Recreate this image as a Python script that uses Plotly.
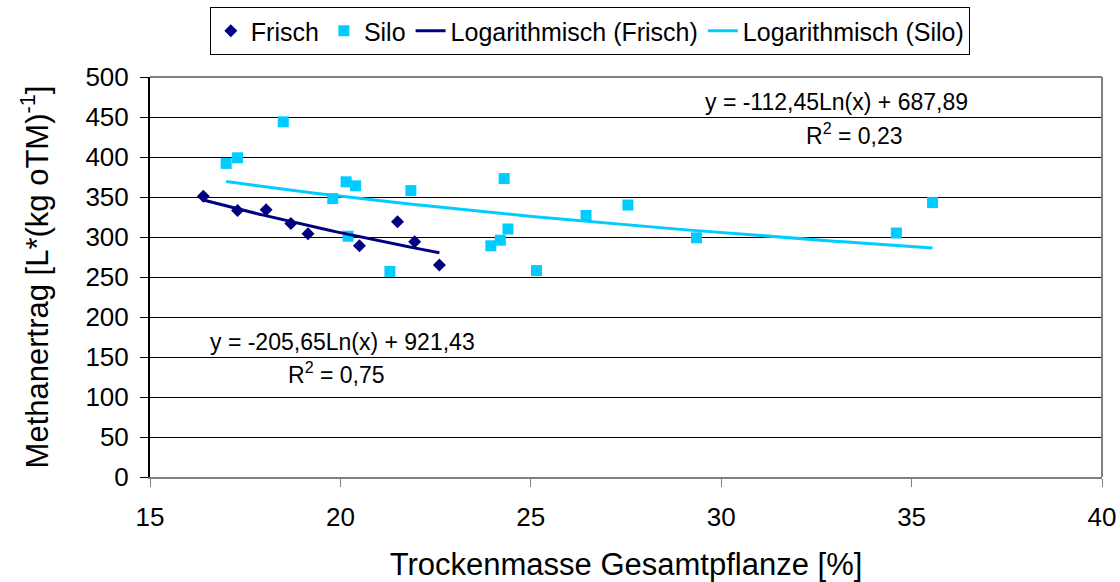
import numpy as np
import plotly.graph_objects as go

# Data
frisch_x = [16.4, 17.3, 18.05, 18.7, 19.15, 20.5, 21.5, 21.95, 22.6]
frisch_y = [351, 333, 334, 317, 304, 289, 319, 294, 265]

silo_x = [17.0, 17.3, 18.5, 19.8, 20.15, 20.4, 20.2, 21.3, 21.85,
          23.95, 24.2, 24.4, 24.3, 25.15, 26.45, 27.55, 29.35, 34.6, 35.55]
silo_y = [392, 399, 444, 348, 369, 364, 301, 257, 358,
          289, 296, 310, 373, 258, 327, 340, 299, 305, 343]

# Logarithmic trend line coefficients (as printed on the chart)
frisch_a, frisch_b = -205.65, 921.43
silo_a, silo_b = -112.45, 687.89

x_ticks = [15, 20, 25, 30, 35, 40]
y_ticks = [0, 50, 100, 150, 200, 250, 300, 350, 400, 450, 500]

FONT = "Liberation Sans, Arial, sans-serif"
DARK = "#000080"
CYAN = "#00CCFF"

fx = np.linspace(min(frisch_x), max(frisch_x), 60)
sx = np.linspace(min(silo_x), max(silo_x), 120)

fig = go.Figure()
fig.add_trace(go.Scatter(x=frisch_x, y=frisch_y, mode="markers", name="Frisch",
                         marker=dict(symbol="diamond", size=10, color=DARK)))
fig.add_trace(go.Scatter(x=silo_x, y=silo_y, mode="markers", name="Silo",
                         marker=dict(symbol="square", size=11, color=CYAN)))
fig.add_trace(go.Scatter(x=fx, y=frisch_a * np.log(fx) + frisch_b, mode="lines",
                         name="Logarithmisch (Frisch)", line=dict(color=DARK, width=3)))
fig.add_trace(go.Scatter(x=sx, y=silo_a * np.log(sx) + silo_b, mode="lines",
                         name="Logarithmisch (Silo)", line=dict(color=CYAN, width=3)))

ann_font = dict(family=FONT, size=23, color="black")
fig.add_annotation(x=23.6, y=169, text="y = -205,65Ln(x) + 921,43", showarrow=False,
                   xanchor="right", font=ann_font)
fig.add_annotation(x=21.22, y=130, text="R<sup>2</sup> = 0,75", showarrow=False,
                   xanchor="right", font=ann_font)
fig.add_annotation(x=36.53, y=469, text="y = -112,45Ln(x) + 687,89", showarrow=False,
                   xanchor="right", font=ann_font)
fig.add_annotation(x=34.83, y=429, text="R<sup>2</sup> = 0,23", showarrow=False,
                   xanchor="right", font=ann_font)

fig.update_layout(
    width=1120, height=582,
    margin=dict(l=150, r=18, t=77, b=105, autoexpand=False),
    paper_bgcolor="white", plot_bgcolor="white",
    font=dict(family=FONT, size=22, color="black"),
    showlegend=True,
    legend=dict(orientation="h", x=0.462, xanchor="center", y=1.175, yanchor="top",
                bordercolor="black", borderwidth=1, font=dict(size=25, family=FONT),
                itemwidth=30, tracegroupgap=0, bgcolor="white"),
    xaxis=dict(range=[15, 40], tickvals=x_ticks, ticks="outside", ticklen=8,
               tickcolor="#808080", showgrid=False, zeroline=False, automargin=False,
               showline=True, linecolor="#808080", linewidth=2, mirror=False,
               tickfont=dict(size=26, family=FONT), ticklabelstandoff=8,
               title=dict(text="Trockenmasse Gesamtpflanze [%]", font=dict(size=31, family=FONT),
                          standoff=22)),
    yaxis=dict(range=[0, 500], tickvals=y_ticks, ticks="outside", ticklen=8,
               tickcolor="black", showgrid=True, gridcolor="black", gridwidth=1,
               zeroline=False, showline=True, linecolor="black", linewidth=2, automargin=False,
               tickfont=dict(size=26, family=FONT), ticklabelstandoff=6,
               title=dict(text="Methanertrag [L*(kg oTM)<sup>-1</sup>]",
                          font=dict(size=31, family=FONT), standoff=28)),
)
# plot area border on right and top (gray)
fig.add_shape(type="line", xref="paper", yref="paper", x0=1, x1=1, y0=0, y1=1,
              line=dict(color="#808080", width=2))
fig.add_shape(type="line", xref="paper", yref="paper", x0=0, x1=1, y0=1, y1=1,
              line=dict(color="#808080", width=2))

fig.write_html("out.html")
